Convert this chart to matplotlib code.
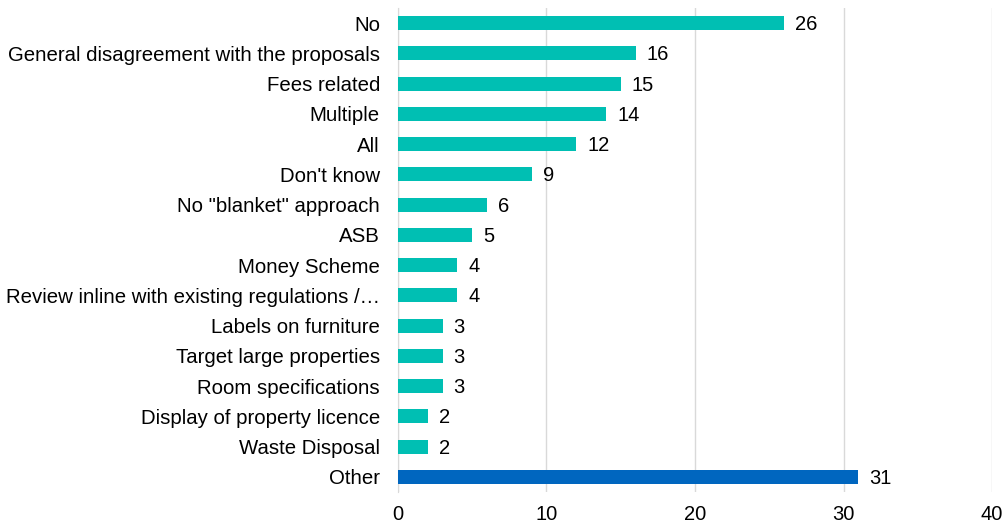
import matplotlib.pyplot as plt

plt.rcParams['font.family'] = ['Liberation Sans', 'DejaVu Sans']

# Data (top to bottom as shown)
categories = ["No", "General disagreement with the proposals", "Fees related", "Multiple",
              "All", "Don't know", 'No "blanket" approach', "ASB", "Money Scheme",
              "Review inline with existing regulations /\u2026", "Labels on furniture",
              "Target large properties", "Room specifications", "Display of property licence",
              "Waste Disposal", "Other"]
counts = [26, 16, 15, 14, 12, 9, 6, 5, 4, 4, 3, 3, 3, 2, 2, 31]
bar_colors = ['#00BFB3'] * 15 + ['#0066BF']

fig = plt.figure(figsize=(10.06, 5.27), dpi=100)
ax = fig.add_axes([0.3956, 0.0664, 0.5905, 0.9184])

pos = list(range(len(categories)))
ax.barh(pos, counts, height=0.46, color=bar_colors, zorder=3)
for p, v in zip(pos, counts):
    ax.text(v + 0.75, p + 0.05, str(v), va='center', ha='left', fontsize=14.5, color='#000000')

ax.set_yticks(pos)
ax.set_yticklabels(categories, fontsize=14.7)
ax.set_ylim(15.5, -0.5)
ax.set_xlim(0, 40)
ax.set_xticks([0, 10, 20, 30, 40])
ax.tick_params(axis='x', labelsize=14.5, length=0, pad=9)
ax.tick_params(axis='y', length=0, pad=13)
ax.grid(axis='x', color='#D9D9D9', linewidth=1, zorder=0)
for s in ['top', 'right', 'bottom']:
    ax.spines[s].set_visible(False)
ax.spines['left'].set_color('#D9D9D9')

fig.savefig('out.png', dpi=100)
